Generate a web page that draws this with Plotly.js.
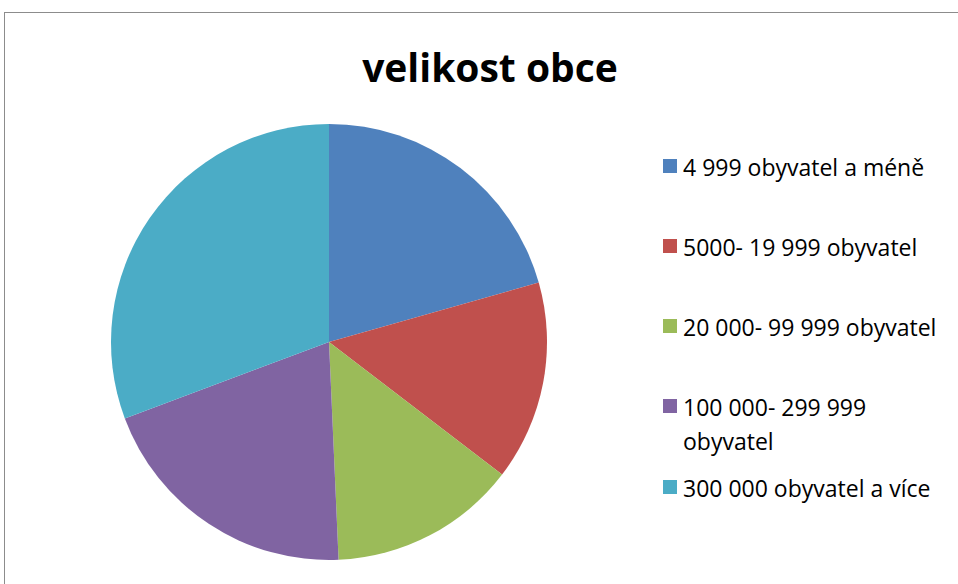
<!DOCTYPE html>
<html><head><meta charset="utf-8">
<script src="https://cdn.plot.ly/plotly-3.0.1.min.js"></script>
<style>
html,body{margin:0;padding:0;background:#fff;}
#frame{position:absolute;left:4px;top:12px;width:970px;height:600px;border-left:1px solid #8c8c8c;border-top:1px solid #8c8c8c;}
#chart{position:absolute;left:0;top:0;width:958px;height:584px;}
</style>
</head><body>
<div id="frame"></div>
<div id="chart"></div>
<script>
const labels = ["4 999 obyvatel a méně", "5000- 19 999 obyvatel", "20 000- 99 999 obyvatel", "100 000- 299 999 obyvatel", "300 000 obyvatel a více"];
const legendLines = [["4 999 obyvatel a méně"], ["5000- 19 999 obyvatel"], ["20 000- 99 999 obyvatel"], ["100 000- 299 999", "obyvatel"], ["300 000 obyvatel a více"]];
const values = [20.6, 14.8, 13.9, 20.0, 30.7];
const colors = ["#4F81BD", "#C0504D", "#9BBB59", "#8064A2", "#4BACC6"];

const W = 958, H = 584;
const px = x => x / W, py = y => 1 - y / H;
const rowY = [166, 246, 326, 406, 487];

const shapes = [], annotations = [];
labels.forEach((l, i) => {
  shapes.push({type:'rect', xref:'paper', yref:'paper',
    x0:px(663), x1:px(677), y0:py(rowY[i]-7), y1:py(rowY[i]+7),
    fillcolor:colors[i], line:{width:0}});
  legendLines[i].forEach((t, j) => {
    annotations.push({xref:'paper', yref:'paper', x:px(681), y:py(rowY[i] + 1 + j*34),
      xanchor:'left', yanchor:'middle', align:'left', showarrow:false,
      text:t, font:{family:'Open Sans', size:23, color:'#000'}});
  });
});

Plotly.newPlot('chart', [{
  type:'pie', labels:labels, values:values, sort:false, direction:'clockwise', rotation:0,
  marker:{colors:colors, line:{width:0}}, textinfo:'none', hoverinfo:'label+percent',
  domain:{x:[px(111), px(547)], y:[py(560), py(124)]}, showlegend:false
}], {
  width:W, height:H, margin:{l:0,r:0,t:0,b:0},
  paper_bgcolor:'rgba(0,0,0,0)', plot_bgcolor:'rgba(0,0,0,0)',
  title:{text:'<b>velikost obce</b>', x:490/W, xanchor:'center', y:1-68/H, yanchor:'middle',
    font:{family:'Open Sans', size:39, color:'#000'}},
  showlegend:false, shapes:shapes, annotations:annotations
}, {displayModeBar:false, staticPlot:true});
</script>
</body></html>
